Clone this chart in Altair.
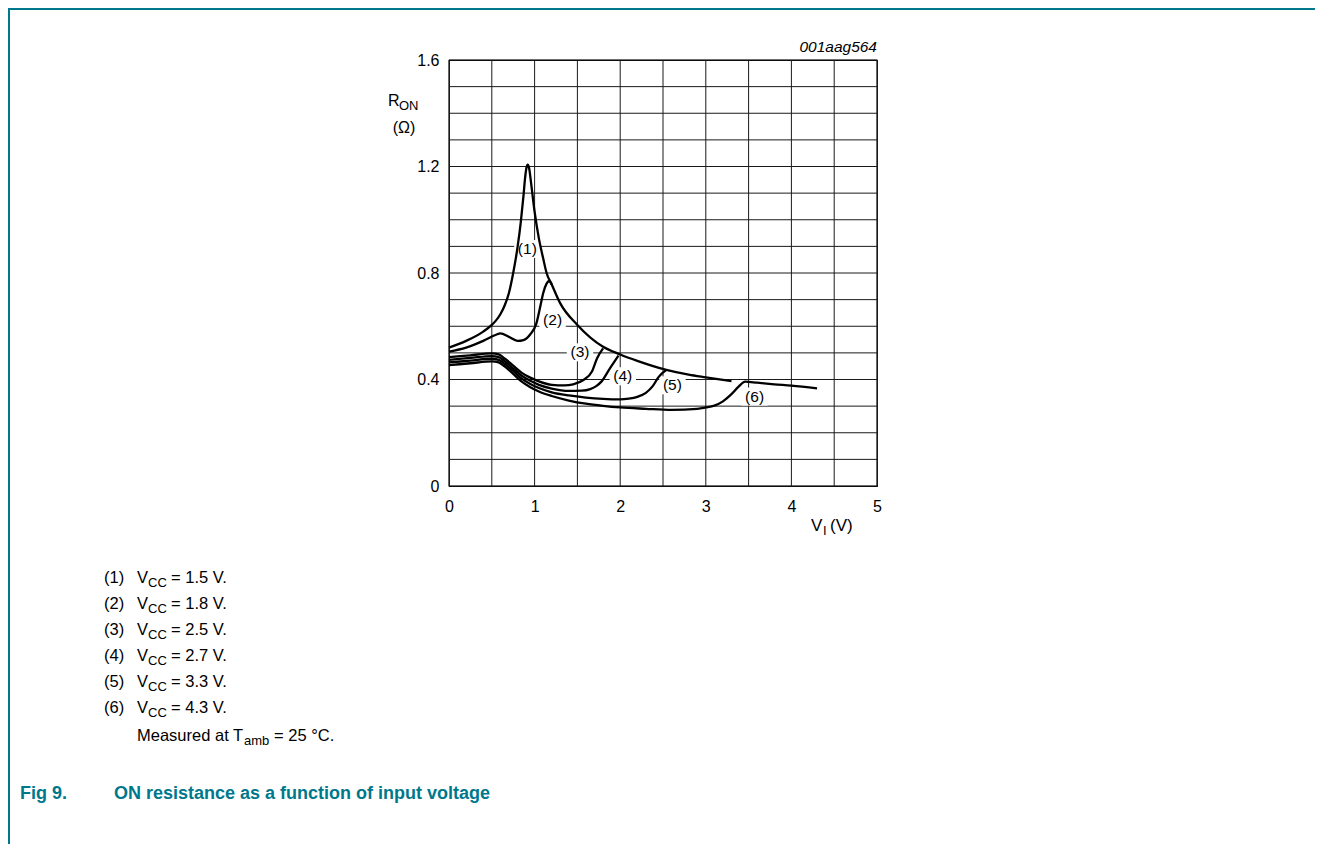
import altair as alt
import pandas as pd

# ---------------- data ----------------
series_names = ["(1)", "(2)", "(3)", "(4)", "(5)", "(6)"]

v1 = [0, 0.2, 0.4, 0.5, 0.55, 0.6, 0.65, 0.7, 0.75, 0.8, 0.84, 0.87, 0.89, 0.905, 0.92, 0.935, 0.96, 1.0,
      1.05, 1.1, 1.14, 1.2, 1.3, 1.5, 1.8, 2.0, 2.2, 2.54, 2.8, 3.0, 3.3]
r1 = [0.52, 0.545, 0.58, 0.605, 0.622, 0.645, 0.678, 0.725, 0.80, 0.895, 0.995, 1.09, 1.16, 1.195, 1.207, 1.195, 1.135, 1.03,
      0.93, 0.855, 0.80, 0.757, 0.686, 0.605, 0.523, 0.494, 0.47, 0.436, 0.418, 0.408, 0.394]

v2 = [0, 0.2, 0.4, 0.55, 0.6, 0.7, 0.8, 0.87, 0.95, 1.02, 1.07, 1.1, 1.14, 1.17, 1.2]
r2 = [0.505, 0.52, 0.545, 0.568, 0.573, 0.56, 0.545, 0.548, 0.57, 0.61, 0.68, 0.724, 0.76, 0.77, 0.757]

v3 = [0, 0.25, 0.5, 0.58, 0.65, 0.75, 0.85, 0.95, 1.05, 1.2, 1.35, 1.45, 1.57, 1.67, 1.73, 1.8]
r3 = [0.484, 0.491, 0.498, 0.494, 0.479, 0.452, 0.425, 0.407, 0.393, 0.38, 0.378, 0.382, 0.398, 0.43, 0.48, 0.517]

v4 = [0, 0.25, 0.5, 0.58, 0.65, 0.75, 0.85, 0.95, 1.05, 1.2, 1.4, 1.55, 1.65, 1.72, 1.78, 1.88, 1.98]
r4 = [0.474, 0.481, 0.488, 0.484, 0.469, 0.442, 0.414, 0.395, 0.38, 0.366, 0.357, 0.358, 0.364, 0.375, 0.392, 0.442, 0.49]

v5 = [0, 0.25, 0.5, 0.58, 0.65, 0.75, 0.85, 0.95, 1.05, 1.2, 1.4, 1.6, 1.8, 2.0, 2.1, 2.2, 2.3, 2.38, 2.45, 2.54]
r5 = [0.464, 0.471, 0.478, 0.474, 0.459, 0.432, 0.403, 0.383, 0.368, 0.352, 0.34, 0.332, 0.327, 0.325, 0.328, 0.335, 0.35, 0.375, 0.41, 0.436]

v6 = [0, 0.25, 0.5, 0.58, 0.65, 0.75, 0.85, 0.95, 1.05, 1.2, 1.4, 1.6, 1.8, 2.0, 2.3, 2.6, 2.9, 3.0,
      3.1, 3.2, 3.3, 3.38, 3.46, 3.6, 3.8, 4.0, 4.3]
r6 = [0.454, 0.461, 0.468, 0.464, 0.449, 0.421, 0.392, 0.371, 0.355, 0.338, 0.321, 0.309, 0.301, 0.295, 0.29, 0.286, 0.29, 0.295,
      0.302, 0.318, 0.345, 0.372, 0.392, 0.388, 0.382, 0.377, 0.367]

label_v = [0.915, 1.21, 1.53, 2.03, 2.61, 3.57]
label_r = [0.89, 0.623, 0.502, 0.412, 0.378, 0.336]

vcc_values = ["1.5", "1.8", "2.5", "2.7", "3.3", "4.3"]

x_grid = [0, 0.5, 1, 1.5, 2, 2.5, 3, 3.5, 4, 4.5, 5]
y_grid = [0, 0.1, 0.2, 0.3, 0.4, 0.5, 0.6, 0.7, 0.8, 0.9, 1.0, 1.1, 1.2, 1.3, 1.4, 1.5, 1.6]
x_ticks = [0, 1, 2, 3, 4, 5]
y_ticks = [0, 0.4, 0.8, 1.2, 1.6]

# ---------------- build tables ----------------
rows = []
for name, vs, rs in zip(series_names, [v1, v2, v3, v4, v5, v6], [r1, r2, r3, r4, r5, r6]):
    for i, (v, r) in enumerate(zip(vs, rs)):
        rows.append({"series": name, "V": v, "R": r, "i": i})
curves = pd.DataFrame(rows)
labels = pd.DataFrame({"t": series_names, "V": label_v, "R": label_r})
xg = pd.DataFrame({"V": x_grid})
yg = pd.DataFrame({"R": y_grid})

FONT = "Liberation Sans"
TEAL = "#00788C"
GRID = "#1a1a1a"
W, H = 428, 426
PL, PT = 441, 52          # plot origin on page = (449, 60)
TOTW, TOTH = 1307, 836

xs = alt.Scale(domain=[0, 5], nice=False, zero=False)
ys = alt.Scale(domain=[0, 1.6], nice=False, zero=False)

x_axis = alt.Axis(values=x_ticks, grid=False, ticks=False, domain=False, title=None,
                  format="d", labelFlush=False, labelOverlap=False, labelPadding=12, labelFontSize=16,
                  labelFont=FONT, labelColor="black")
y_axis = alt.Axis(values=y_ticks, grid=False, ticks=False, domain=False, title=None,
                  labelExpr="datum.value == 0 ? '0' : format(datum.value, '.1f')",
                  labelFlush=False, labelOverlap=False, labelPadding=10, labelFontSize=16,
                  labelFont=FONT, labelColor="black", labelBaseline="middle")

base = alt.Chart(curves)

axes_layer = base.mark_line(opacity=0).encode(
    x=alt.X("V:Q", scale=xs, axis=x_axis),
    y=alt.Y("R:Q", scale=ys, axis=y_axis),
    detail="series:N",
)

vgrid = alt.Chart(xg).mark_rule(color=GRID, strokeWidth=1).encode(
    x=alt.X("V:Q", scale=xs)
)
hgrid = alt.Chart(yg).mark_rule(color=GRID, strokeWidth=1).encode(
    y=alt.Y("R:Q", scale=ys)
)

boxes = alt.Chart(labels).mark_point(
    shape="M-2.2,-1.5H2.2V1.5H-2.2Z", size=144, filled=True, color="white", opacity=1, strokeWidth=0
).encode(x=alt.X("V:Q", scale=xs), y=alt.Y("R:Q", scale=ys))

lines = base.mark_line(color="black", strokeWidth=2.3, interpolate="monotone").encode(
    x=alt.X("V:Q", scale=xs),
    y=alt.Y("R:Q", scale=ys),
    detail="series:N",
    order="i:Q",
)

label_text = alt.Chart(labels).mark_text(font=FONT, fontSize=15.5, color="black").encode(
    x=alt.X("V:Q", scale=xs), y=alt.Y("R:Q", scale=ys), text="t:N"
)

one = alt.Data(values=[{}])


def txt(s, px, py, size=16, weight="normal", color="black", align="left", style="normal", baseline="alphabetic"):
    # px, py are page coordinates; convert to plot-relative
    return alt.Chart(one).mark_text(
        text=s, font=FONT, fontSize=size, fontWeight=weight, color=color, align=align,
        baseline=baseline, fontStyle=style
    ).encode(x=alt.value(px - 449), y=alt.value(py - 60))


texts = []
# figure id
texts.append(txt("001aag564", 877, 52, size=15.5, style="italic", align="right"))
# y title
texts.append(txt("R", 388, 106, size=16))
texts.append(txt("ON", 399, 110, size=13))
texts.append(txt("(Ω)", 404, 133, size=16, align="center"))
# x title
texts.append(txt("V", 811, 531, size=17))
texts.append(txt("I", 823, 535, size=13))
texts.append(txt("(V)", 830, 531, size=17))

# legend
for k, (num, val) in enumerate(zip(series_names, vcc_values)):
    yb = 583 + 26 * k
    texts.append(txt(num, 104, yb, size=16.5))
    texts.append(txt("V", 137, yb, size=16.5))
    texts.append(txt("CC", 148, yb + 4, size=13))
    texts.append(txt("= " + val + " V.", 171, yb, size=16.5))

yb = 583 + 26 * 6 + 2
texts.append(txt("Measured at T", 137, yb, size=16.5))
texts.append(txt("amb", 244, yb + 4, size=13))
texts.append(txt("= 25 °C.", 274, yb, size=16.5))

# caption
texts.append(txt("Fig 9.", 20, 799, size=18, weight="bold", color=TEAL))
texts.append(txt("ON resistance as a function of input voltage", 114, 799, size=18, weight="bold", color=TEAL))

# page frame (teal)
frame_top = alt.Chart(one).mark_rule(color=TEAL, strokeWidth=2).encode(
    x=alt.value(-PL), x2=alt.value(TOTW - PL), y=alt.value(-PT + 1)
)
frame_left = alt.Chart(one).mark_rule(color=TEAL, strokeWidth=2).encode(
    x=alt.value(-PL + 1), y=alt.value(-PT), y2=alt.value(TOTH - PT)
)

chart = alt.layer(axes_layer, vgrid, hgrid, boxes, lines, label_text, frame_top, frame_left, *texts).properties(
    width=W, height=H,
    padding={"left": PL, "top": PT, "right": TOTW - PL - W, "bottom": TOTH - PT - H},
    autosize=alt.AutoSizeParams(type="none"),
).configure_view(stroke="black", strokeWidth=1.2)

chart.save("out.html", embed_options={"renderer": "svg", "actions": False})
